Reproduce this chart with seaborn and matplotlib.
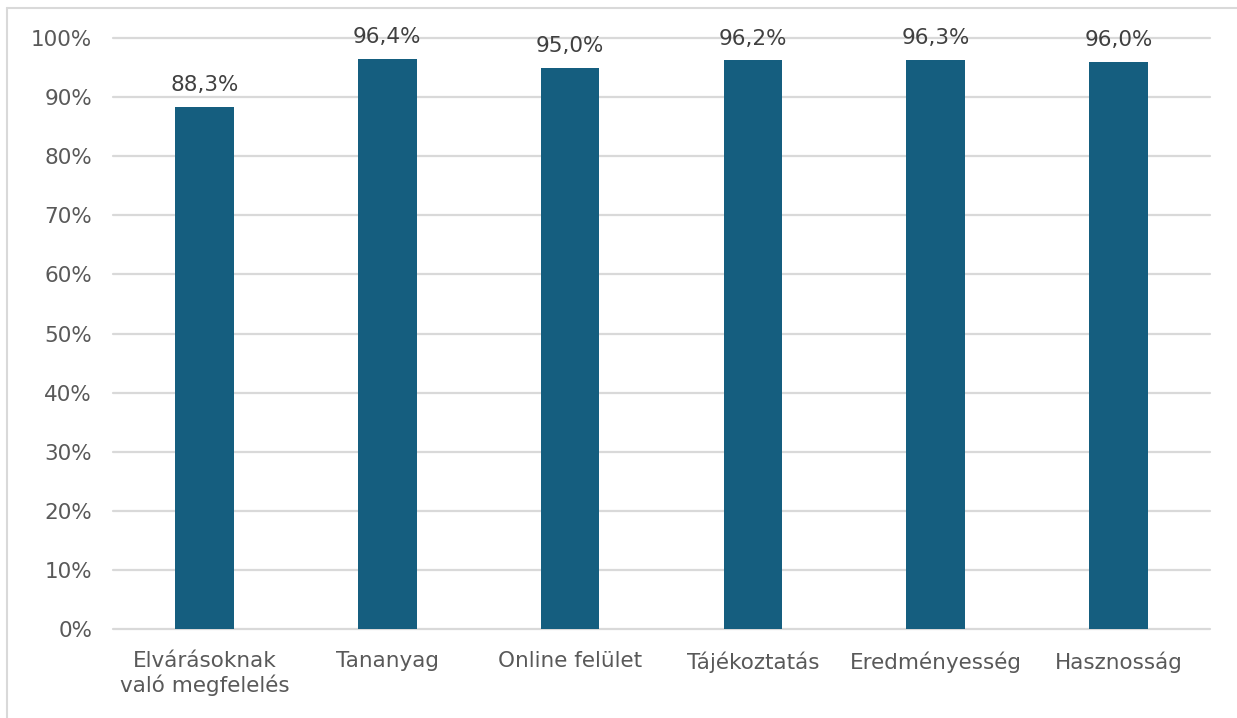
import matplotlib
matplotlib.use("Agg")
import matplotlib.pyplot as plt
import seaborn as sns
import pandas as pd
from matplotlib.lines import Line2D

categories = ["Elvárásoknak\nvaló megfelelés", "Tananyag", "Online felület",
              "Tájékoztatás", "Eredményesség", "Hasznosság"]
values = [88.3, 96.4, 95.0, 96.2, 96.3, 96.0]
yticks = [0, 10, 20, 30, 40, 50, 60, 70, 80, 90, 100]

sns.set_style("white")
plt.rcParams['font.family'] = ['DejaVu Sans']

df = pd.DataFrame({"cat": categories, "val": values})

fig = plt.figure(figsize=(12.37, 7.18), dpi=100)
ax = fig.add_axes([113/1237, 1-629/718, (1210-113)/1237, (629-38)/718])

sns.barplot(data=df, x="cat", y="val", color="#155E7F", width=0.32,
            saturation=1, ax=ax, zorder=3, edgecolor="none", linewidth=0)

ax.set_ylim(0, 100)
ax.set_xlim(-0.5, len(categories) - 0.5)
ax.set_yticks(yticks)
ax.set_yticklabels([f"{t}%" for t in yticks])
ax.yaxis.grid(True, color="#d9d9d9", linewidth=1.6, zorder=0)
for gl in ax.get_ygridlines():
    gl.set_clip_on(False)
ax.set_axisbelow(True)
for s in ax.spines.values():
    s.set_visible(False)
ax.set_xlabel("")
ax.set_ylabel("")
ax.tick_params(axis="both", length=0, colors="#595959", labelsize=15.5)
ax.tick_params(axis="y", pad=15)
ax.tick_params(axis="x", pad=16)
for lbl in ax.get_xticklabels():
    lbl.set_linespacing(1.2)

for i, v in enumerate(values):
    ax.text(i, v + 2.0, f"{v:.1f}%".replace(".", ","), ha="center", va="bottom",
            fontsize=15.5, color="#404040")

# figure border (top and left)
fig.add_artist(Line2D([7/1237, 7/1237], [0, 1-8/718], transform=fig.transFigure,
                      color="#d9d9d9", linewidth=1.5))
fig.add_artist(Line2D([7/1237, 1], [1-8/718, 1-8/718], transform=fig.transFigure,
                      color="#d9d9d9", linewidth=1.5))

fig.savefig("out.png", dpi=100)
